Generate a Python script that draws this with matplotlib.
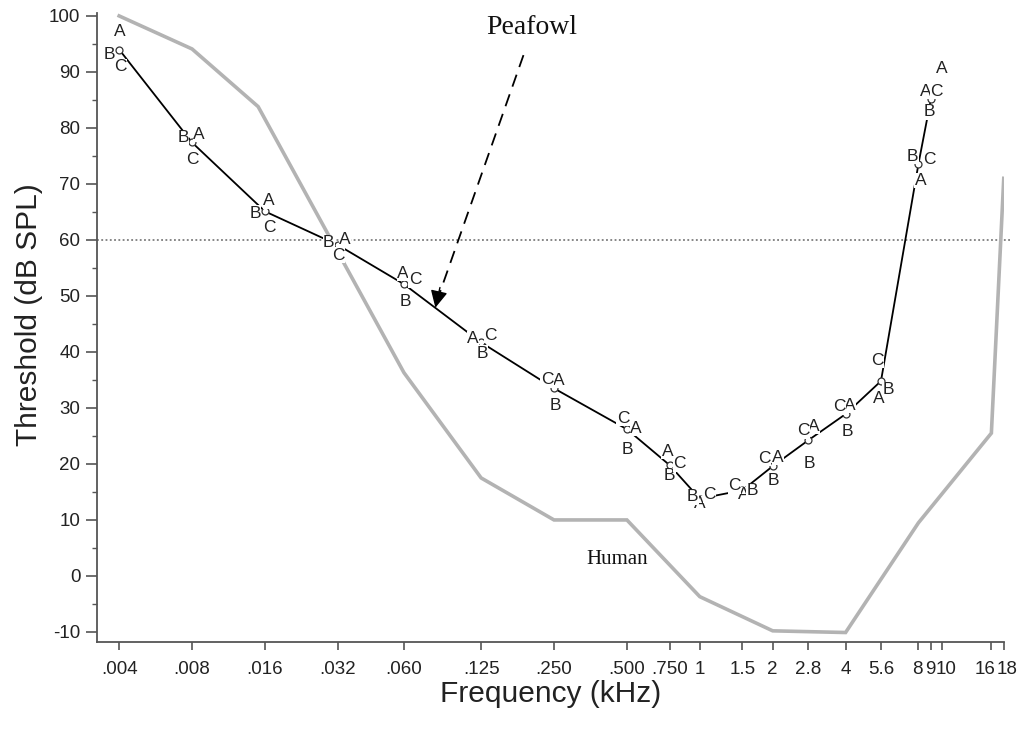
import matplotlib
matplotlib.use("Agg")
import matplotlib.pyplot as plt
from matplotlib.ticker import FixedLocator, FixedFormatter, NullLocator, MultipleLocator
from matplotlib.transforms import ScaledTranslation

# Frequencies (kHz) and thresholds (dB SPL) for the three peafowl (A, B, C)
freqs = [0.004, 0.008, 0.016, 0.032, 0.06, 0.125, 0.25, 0.5, 0.75,
         1, 1.5, 2, 2.8, 4, 5.6, 8, 9]
bird_a = [97.2, 78.9, 67.0, 60.0, 54.0, 42.4, 34.9, 26.4, 22.2,
          12.9, 14.5, 21.2, 26.7, 30.5, 31.7, 70.6, 86.5]
bird_b = [93.2, 78.3, 64.8, 59.5, 49.0, 39.8, 30.5, 22.6, 17.9,
          14.1, 15.2, 17.1, 20.0, 25.8, 33.3, 74.9, 82.9]
bird_c = [90.9, 74.4, 62.3, 57.3, 52.9, 43.0, 35.0, 28.2, 20.0,
          14.5, 16.1, 21.0, 25.9, 30.2, 38.5, 74.4, 86.5]
peafowl_mean = [94.0, 77.4, 65.1, 59.1, 52.1, 41.7, 33.5, 26.2, 19.8,
                13.8, 15.3, 19.6, 24.2, 28.9, 34.8, 73.6, 85.1]

# only bird A was tested at 10 kHz
extra_freq = 10
extra_a = 90.7

# Human audiogram
human_freqs = [0.004, 0.008, 0.015, 0.06, 0.125, 0.25, 0.5, 1, 2, 4, 8, 16, 18]
human_vals = [100, 94.1, 83.8, 36.3, 17.5, 10.0, 10.0, -3.7, -9.8, -10.1, 9.5, 25.5, 71]

tick_freqs = [0.004, 0.008, 0.016, 0.032, 0.06, 0.125, 0.25, 0.5, 0.75,
              1, 1.5, 2, 2.8, 4, 5.6, 8, 9, 10, 16, 18]
tick_labels = [".004", ".008", ".016", ".032", ".060", ".125", ".250", ".500", ".750",
               "1", "1.5", "2", "2.8", "4", "5.6", "8", "9", "10", "16", "18"]

# horizontal nudges (pixels) used to keep the letters from overlapping
dx_a = [1, 7, 4, 7, -1, -8, 5, 9, -2, 0, 1, 5, 6, 4, -2, 2, -5]
dx_b = [-10, -9, -10, -9, 1, 1, 1, 0, 0, -7, 10, 1, 1, 2, 7, -6, -1]
dx_c = [1, 0, 4, 1, 11, 9, -7, -4, 10, 10, -8, -8, -5, -6, -4, 11, 6]

# crowded tick labels at the top end get pushed apart a little (pixels)
label_shift = {"8": -1, "9": -1, "10": 4, "16": -6, "18": 3}

plt.rcParams['font.family'] = ['Liberation Sans', 'DejaVu Sans']
plt.rcParams['axes.unicode_minus'] = False

fig = plt.figure(figsize=(10.21, 7.33), dpi=100)
ax = fig.add_axes([0.095, 0.1241, 0.8884, 0.858])

ax.set_xscale('log', base=2)
ax.set_xlim(0.00324, 18.05)
ax.set_ylim(-11.8, 100.5)

# 60 dB reference line
ax.axhline(60, xmin=0, xmax=1.009, color='#666666', lw=1.1, ls=(0, (1.2, 1.6)),
           clip_on=False, zorder=1)

# human curve
ax.plot(human_freqs, human_vals, color='#b3b3b3', lw=2.6, zorder=2,
        solid_joinstyle='miter')

# peafowl mean
ax.plot(freqs, peafowl_mean, color='black', lw=1.3, zorder=3)
ax.plot(freqs, peafowl_mean, ls='none', marker='o', ms=5, mfc='white',
        mec='#333333', mew=0.9, zorder=4)

px = 0.72  # points per pixel at 100 dpi
letter_box = dict(facecolor='white', edgecolor='none', pad=0.3)
for name, vals, dxs in (("A", bird_a, dx_a), ("B", bird_b, dx_b), ("C", bird_c, dx_c)):
    for f, v, d in zip(freqs, vals, dxs):
        ax.annotate(name, (f, v), xytext=(d * px, 0), textcoords='offset points',
                    ha='center', va='center', fontsize=12.5, color='#222222',
                    bbox=letter_box, zorder=5)
ax.annotate("A", (extra_freq, extra_a), ha='center', va='center', fontsize=12.5,
            color='#222222', zorder=5)

# labels and arrow
ax.text(0.2017, 98.0, "Peafowl", family=['Liberation Serif'], fontsize=20,
        ha='center', va='center', color='#111111')
ax.text(0.457, 2.9, "Human", family=['Liberation Serif'], fontsize=15,
        ha='center', va='center', color='#111111')
ax.plot([0.187, 0.0835], [93.0, 50.0], color='black', lw=1.3,
        dashes=(7, 4.5), zorder=6)
ax.annotate('', xy=(0.0809, 47.9), xytext=(0.0845, 51.5),
            arrowprops=dict(arrowstyle='-|>', color='black', lw=1.0,
                            mutation_scale=26, shrinkA=0, shrinkB=0), zorder=6)

# axes styling
for side in ('top', 'right'):
    ax.spines[side].set_visible(False)
for side in ('left', 'bottom'):
    ax.spines[side].set_color('#555555')
    ax.spines[side].set_linewidth(1.3)

ax.xaxis.set_major_locator(FixedLocator(tick_freqs))
ax.xaxis.set_major_formatter(FixedFormatter(tick_labels))
ax.xaxis.set_minor_locator(NullLocator())
ax.yaxis.set_major_locator(FixedLocator(list(range(-10, 101, 10))))
ax.yaxis.set_minor_locator(MultipleLocator(5))

ax.tick_params(axis='x', which='major', direction='out', length=6, width=1.2,
               color='#555555', labelsize=13.5, labelcolor='#222222', pad=8)
ax.tick_params(axis='y', which='major', direction='out', length=8, width=1.2,
               color='#555555', labelsize=13.5, labelcolor='#222222', pad=4)
ax.tick_params(axis='y', which='minor', direction='out', length=3.5, width=1.0,
               color='#555555')

for lab in ax.get_xticklabels():
    s = label_shift.get(lab.get_text(), 0)
    if s:
        lab.set_transform(lab.get_transform() +
                          ScaledTranslation(s / 100, 0, fig.dpi_scale_trans))

ax.set_xlabel("Frequency (kHz)", fontsize=21.5, color='#222222', labelpad=1)
ax.set_ylabel("Threshold (dB SPL)", fontsize=21.5, color='#222222', labelpad=4)
ax.yaxis.label.set_y(0.52)

fig.savefig("out.png", dpi=100)
